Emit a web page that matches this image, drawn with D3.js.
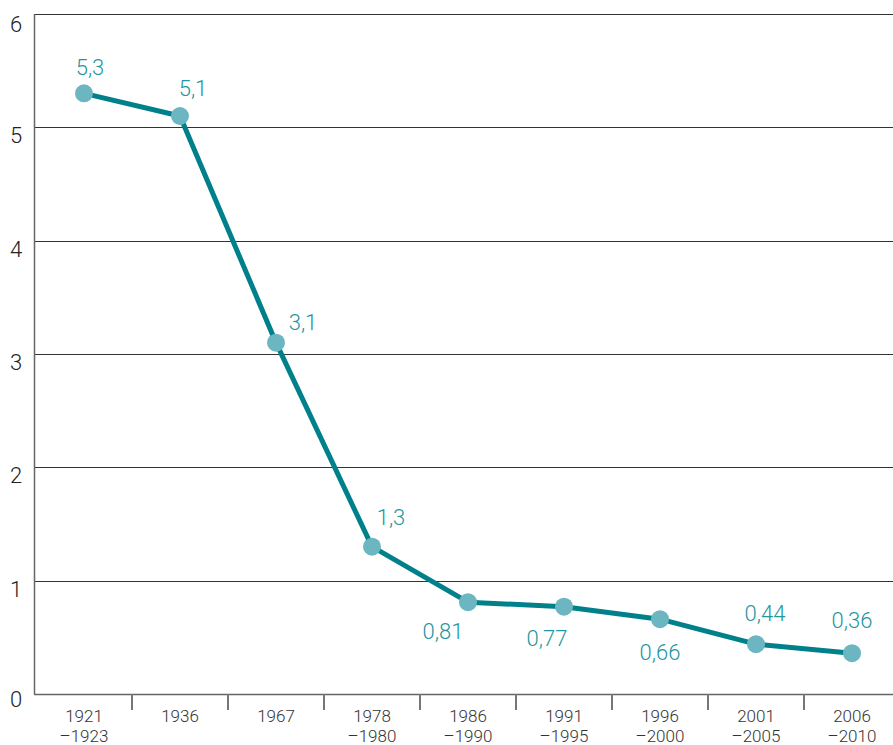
<!DOCTYPE html>
<html>
<head>
<meta charset="utf-8">
<script src="https://cdn.jsdelivr.net/npm/d3@7"></script>
<style>
  body { margin: 0; background: #fff; }
  svg { display: block; font-family: Roboto, "Noto Sans", sans-serif; }
</style>
</head>
<body>
<div id="chart-container"></div>
<script>
// Data
const periods = [["1921", "–1923"], ["1936"], ["1967"], ["1978", "–1980"], ["1986", "–1990"],
  ["1991", "–1995"], ["1996", "–2000"], ["2001", "–2005"], ["2006", "–2010"]];
const values = [5.3, 5.1, 3.1, 1.3, 0.81, 0.77, 0.66, 0.44, 0.36];
const valueLabels = ["5,3", "5,1", "3,1", "1,3", "0,81", "0,77", "0,66", "0,44", "0,36"];
const yTicks = [0, 1, 2, 3, 4, 5, 6];

// label offsets from the point centre
const labelOffsets = [[6, -26], [13, -28], [27, -21], [19, -30], [-25, 29],
  [-17, 31], [0, 33], [9, -31], [0, -33]];

const W = 893, H = 745;
const margin = { top: 14, right: 0, bottom: 51, left: 34 };
const height = H - margin.top - margin.bottom;

const svg = d3.select("#chart-container")
  .append("svg")
  .attr("width", W)
  .attr("height", H);

const x = d3.scaleBand()
  .domain(d3.range(periods.length))
  .range([36, 36 + 96 * periods.length])
  .padding(0);

const y = d3.scaleLinear()
  .domain([0, 6])
  .range([margin.top + height, margin.top]);

const cx = i => x(i) + x.bandwidth() / 2;

// Grid lines
svg.append("g")
  .selectAll("line")
  .data(yTicks)
  .enter().append("line")
  .attr("x1", margin.left)
  .attr("x2", W)
  .attr("y1", d => Math.round(y(d)) + 0.5)
  .attr("y2", d => Math.round(y(d)) + 0.5)
  .attr("stroke", d => d === 0 ? "#666" : "#333")
  .attr("stroke-width", d => d === 0 ? 1.5 : 1);

// Y axis line
svg.append("line")
  .attr("x1", margin.left + 0.5)
  .attr("x2", margin.left + 0.5)
  .attr("y1", y(6))
  .attr("y2", y(0))
  .attr("stroke", "#666")
  .attr("stroke-width", 1.5);

// Y tick labels
svg.append("g")
  .selectAll("text")
  .data(yTicks)
  .enter().append("text")
  .attr("x", 16)
  .attr("y", d => y(d) + (d === 6 ? 18 : d === 0 ? 13 : 16))
  .attr("text-anchor", "middle")
  .style("font-size", "22px")
  .style("font-weight", 300)
  .style("fill", "#222")
  .text(d => d);

// X ticks between bands
svg.append("g")
  .selectAll("line")
  .data(d3.range(1, periods.length))
  .enter().append("line")
  .attr("x1", d => x(d))
  .attr("x2", d => x(d))
  .attr("y1", y(0))
  .attr("y2", y(0) + 16)
  .attr("stroke", "#777")
  .attr("stroke-width", 2);

// X labels
const xl = svg.append("g")
  .selectAll("text")
  .data(periods)
  .enter().append("text")
  .attr("text-anchor", "middle")
  .attr("x", (d, i) => cx(i))
  .attr("y", 722)
  .style("font-size", "17px")
  .style("font-weight", 300)
  .style("fill", "#333");

xl.selectAll("tspan")
  .data(d => d)
  .enter().append("tspan")
  .attr("x", function () { return this.parentNode.getAttribute("x"); })
  .attr("dy", (d, i) => i === 0 ? 0 : 20)
  .text(d => d);

// Line
const line = d3.line()
  .x((d, i) => cx(i))
  .y(d => y(d));

svg.append("path")
  .datum(values)
  .attr("d", line)
  .attr("fill", "none")
  .attr("stroke", "#00808b")
  .attr("stroke-width", 5)
  .attr("stroke-linejoin", "round");

// Points
svg.append("g")
  .selectAll("circle")
  .data(values)
  .enter().append("circle")
  .attr("cx", (d, i) => cx(i))
  .attr("cy", d => y(d))
  .attr("r", 9)
  .attr("fill", "#6cb6c1");

// Value labels
svg.append("g")
  .selectAll("text")
  .data(values)
  .enter().append("text")
  .attr("text-anchor", "middle")
  .attr("x", (d, i) => cx(i) + labelOffsets[i][0])
  .attr("y", (d, i) => y(d) + labelOffsets[i][1] + 8)
  .style("font-size", "22px")
  .style("font-weight", 300)
  .style("fill", "#2396a0")
  .text((d, i) => valueLabels[i]);
</script>
</body>
</html>
